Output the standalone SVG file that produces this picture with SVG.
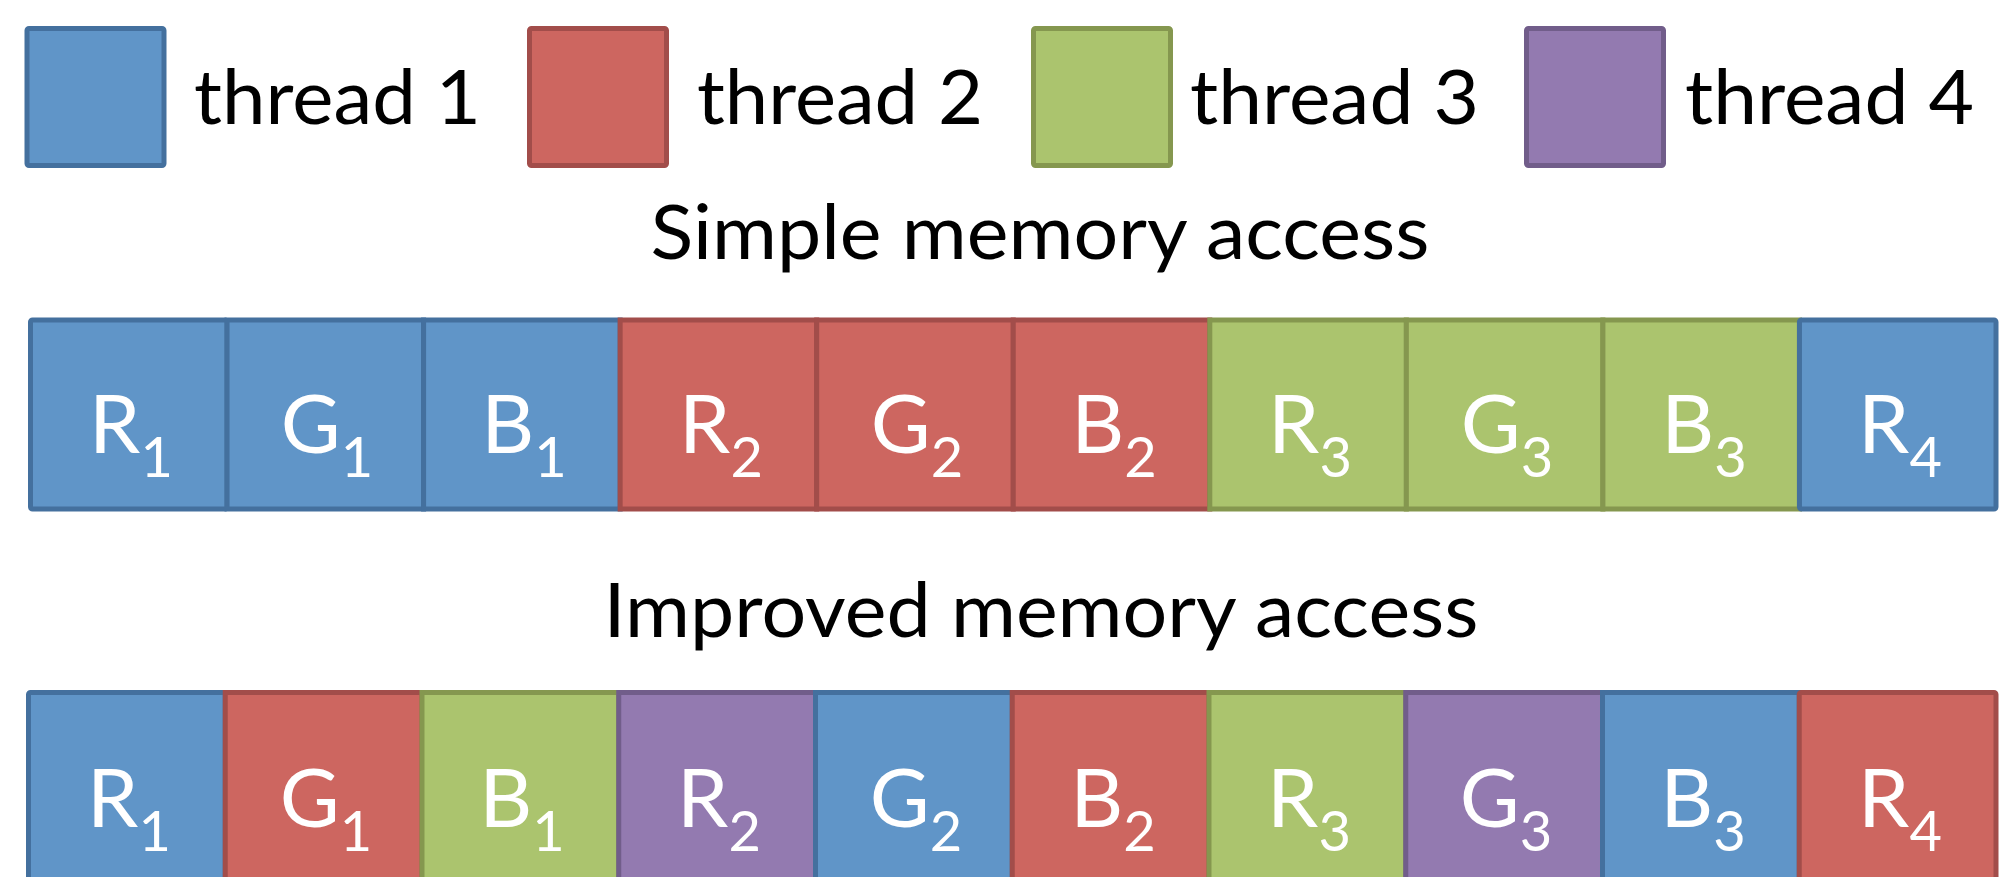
<svg xmlns="http://www.w3.org/2000/svg" width="2001" height="877" viewBox="0 0 2001 877">
  <style>
    .t1 { fill: #6095C8; stroke: #44709E; }
    .t2 { fill: #CD6660; stroke: #A24D4A; }
    .t3 { fill: #ABC46E; stroke: #85974F; }
    .t4 { fill: #937AB0; stroke: #715D8A; }
    rect { stroke-width: 5; }
    .legend { font-family: Lato, "Liberation Sans", sans-serif; font-size: 76px; fill: #000; }
    .title { font-family: Lato, "Liberation Sans", sans-serif; font-size: 76px; fill: #000; text-anchor: middle; }
    .cell { font-family: Lato, "Liberation Sans", sans-serif; font-size: 82px; fill: #fff; text-anchor: middle; }
    .sub { font-size: 56px; }
  </style>

  <!-- legend -->
  <g id="legend-thread1">
    <rect class="t1" x="27" y="28.5" width="137" height="137" rx="2"/>
    <text class="legend" x="194" y="124" textLength="287" lengthAdjust="spacingAndGlyphs">thread 1</text>
  </g>
  <g id="legend-thread2">
    <rect class="t2" x="529.5" y="28.5" width="137" height="137" rx="2"/>
    <text class="legend" x="697" y="124" textLength="286" lengthAdjust="spacingAndGlyphs">thread 2</text>
  </g>
  <g id="legend-thread3">
    <rect class="t3" x="1033.5" y="28.5" width="137" height="137" rx="2"/>
    <text class="legend" x="1190" y="124" textLength="289" lengthAdjust="spacingAndGlyphs">thread 3</text>
  </g>
  <g id="legend-thread4">
    <rect class="t4" x="1526.5" y="28.5" width="137" height="137" rx="2"/>
    <text class="legend" x="1685" y="124" textLength="289" lengthAdjust="spacingAndGlyphs">thread 4</text>
  </g>

  <!-- simple layout: each thread reads three consecutive values -->
  <text id="title-simple" class="title" x="1040" y="259" textLength="779" lengthAdjust="spacingAndGlyphs">Simple memory access</text>
  <g id="row-simple">
    <g id="s1"><rect class="t1" x="30.5" y="320" width="196.55" height="189" rx="2"/><text class="cell" x="131" y="453">R<tspan class="sub" dy="24">1</tspan></text></g>
    <g id="s2"><rect class="t1" x="227.05" y="320" width="196.55" height="189"/><text class="cell" x="327" y="453">G<tspan class="sub" dy="24">1</tspan></text></g>
    <g id="s3"><rect class="t1" x="423.6" y="320" width="196.55" height="189"/><text class="cell" x="524" y="453">B<tspan class="sub" dy="24">1</tspan></text></g>
    <g id="s4"><rect class="t2" x="620.15" y="320" width="196.55" height="189"/><text class="cell" x="721" y="453">R<tspan class="sub" dy="24">2</tspan></text></g>
    <g id="s5"><rect class="t2" x="816.7" y="320" width="196.55" height="189"/><text class="cell" x="917" y="453">G<tspan class="sub" dy="24">2</tspan></text></g>
    <g id="s6"><rect class="t2" x="1013.25" y="320" width="196.55" height="189"/><text class="cell" x="1114" y="453">B<tspan class="sub" dy="24">2</tspan></text></g>
    <g id="s7"><rect class="t3" x="1209.8" y="320" width="196.55" height="189"/><text class="cell" x="1310" y="453">R<tspan class="sub" dy="24">3</tspan></text></g>
    <g id="s8"><rect class="t3" x="1406.35" y="320" width="196.55" height="189"/><text class="cell" x="1507" y="453">G<tspan class="sub" dy="24">3</tspan></text></g>
    <g id="s9"><rect class="t3" x="1602.9" y="320" width="196.55" height="189"/><text class="cell" x="1704" y="453">B<tspan class="sub" dy="24">3</tspan></text></g>
    <g id="s10"><rect class="t1" x="1799.45" y="320" width="196.55" height="189" rx="2"/><text class="cell" x="1900" y="453">R<tspan class="sub" dy="24">4</tspan></text></g>
  </g>

  <!-- improved layout: consecutive values go to consecutive threads -->
  <text id="title-improved" class="title" x="1041" y="637" textLength="875" lengthAdjust="spacingAndGlyphs">Improved memory access</text>
  <g id="row-improved">
    <g id="i1"><rect class="t1" x="28.5" y="692.5" width="196.75" height="189" rx="2"/><text class="cell" x="129" y="827">R<tspan class="sub" dy="24">1</tspan></text></g>
    <g id="i2"><rect class="t2" x="225.25" y="692.5" width="196.75" height="189"/><text class="cell" x="326" y="827">G<tspan class="sub" dy="24">1</tspan></text></g>
    <g id="i3"><rect class="t3" x="422" y="692.5" width="196.75" height="189"/><text class="cell" x="522" y="827">B<tspan class="sub" dy="24">1</tspan></text></g>
    <g id="i4"><rect class="t4" x="618.75" y="692.5" width="196.75" height="189"/><text class="cell" x="719" y="827">R<tspan class="sub" dy="24">2</tspan></text></g>
    <g id="i5"><rect class="t1" x="815.5" y="692.5" width="196.75" height="189"/><text class="cell" x="916" y="827">G<tspan class="sub" dy="24">2</tspan></text></g>
    <g id="i6"><rect class="t2" x="1012.25" y="692.5" width="196.75" height="189"/><text class="cell" x="1113" y="827">B<tspan class="sub" dy="24">2</tspan></text></g>
    <g id="i7"><rect class="t3" x="1209" y="692.5" width="196.75" height="189"/><text class="cell" x="1309" y="827">R<tspan class="sub" dy="24">3</tspan></text></g>
    <g id="i8"><rect class="t4" x="1405.75" y="692.5" width="196.75" height="189"/><text class="cell" x="1506" y="827">G<tspan class="sub" dy="24">3</tspan></text></g>
    <g id="i9"><rect class="t1" x="1602.5" y="692.5" width="196.75" height="189"/><text class="cell" x="1703" y="827">B<tspan class="sub" dy="24">3</tspan></text></g>
    <g id="i10"><rect class="t2" x="1799.25" y="692.5" width="196.75" height="189" rx="2"/><text class="cell" x="1900" y="827">R<tspan class="sub" dy="24">4</tspan></text></g>
  </g>
</svg>
